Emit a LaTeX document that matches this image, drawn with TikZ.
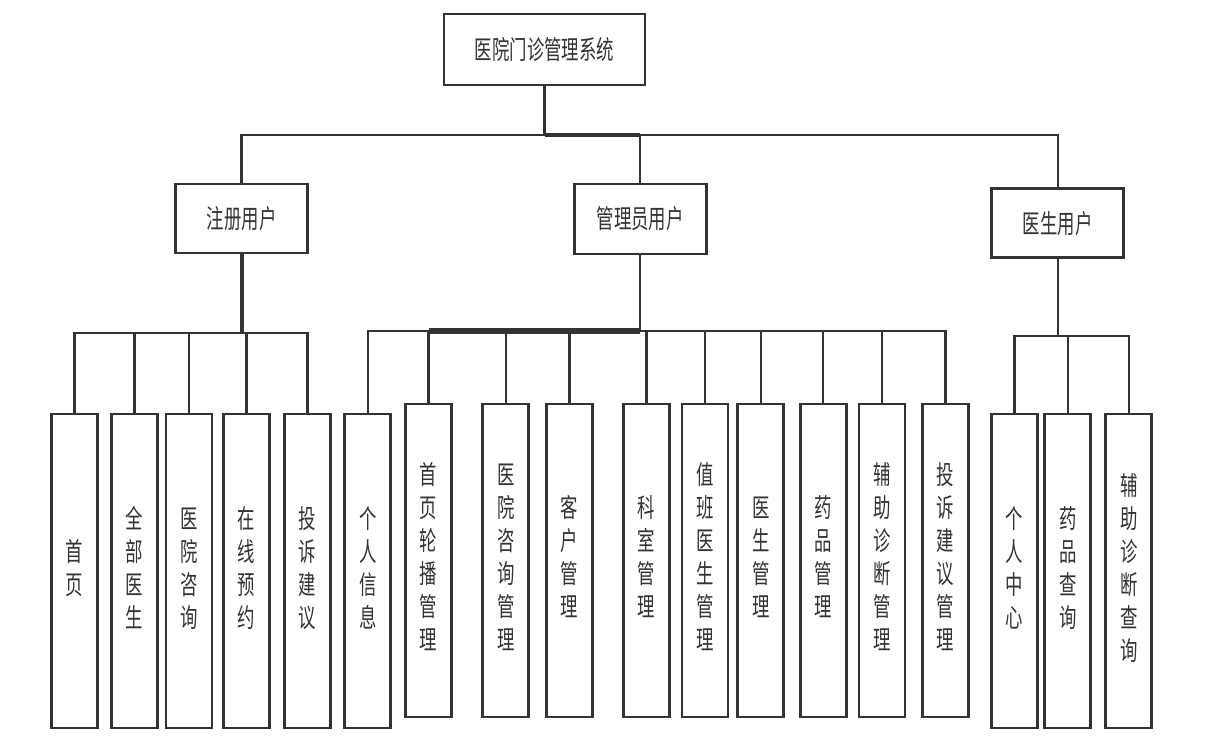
\documentclass[tikz,border=0pt]{standalone}
\usepackage{fontspec}
\usepackage{graphicx}
\newfontfamily\cjk{Noto Sans CJK SC}
\newcommand\vtxt[1]{\scalebox{1}[1.5]{\begin{tabular}{@{}c@{}}#1\end{tabular}}}
\newcommand\htxt[1]{\scalebox{1}[1.5]{#1}}
\definecolor{ln}{HTML}{333333}
\begin{document}
\begin{tikzpicture}[x=1pt,y=-1pt,
  box/.style={draw=ln, line width=2.8pt, inner sep=0pt, text=ln,
    font=\cjk\fontsize{17.4}{22}\selectfont},
  topbox/.style={box, minimum width=132pt, minimum height=69pt},
  leaf/.style={box, minimum width=46pt, minimum height=313pt},
  conn/.style={draw=ln, line width=2.4pt},
  heavy/.style={draw=ln, line width=4pt},
  heavier/.style={draw=ln, line width=6pt}]
\useasboundingbox (0,0) rectangle (1221,752);
% level 0 and 1
\node[box, minimum width=201pt, minimum height=71pt] (root) at (544.5,49.5) {\htxt{医院门诊管理系统}};
\node[topbox] (reg) at (241.6,218.5) {\htxt{注册用户}};
\node[topbox, minimum height=70pt] (adm) at (640.2,219) {\htxt{管理员用户}};
\node[topbox] (doc) at (1057.7,223.3) {\htxt{医生用户}};
% registered children
\node[leaf, minimum height=314pt] (r1) at (74.5,571) {\vtxt{首\\页}};
\node[leaf, minimum height=314pt] (r2) at (134.5,571) {\vtxt{全\\部\\医\\生}};
\node[leaf, minimum height=314pt] (r3) at (189,571) {\vtxt{医\\院\\咨\\询}};
\node[leaf, minimum height=314pt] (r4) at (246.5,571) {\vtxt{在\\线\\预\\约}};
\node[leaf, minimum height=314pt] (r5) at (307.6,571) {\vtxt{投\\诉\\建\\议}};
% admin children
\node[leaf, minimum height=314pt] (a1) at (367.7,571) {\vtxt{个\\人\\信\\息}};
\node[leaf] (a2) at (428.6,560.5) {\vtxt{首\\页\\轮\\播\\管\\理}};
\node[leaf] (a3) at (505.7,560.5) {\vtxt{医\\院\\咨\\询\\管\\理}};
\node[leaf] (a4) at (569.5,560.5) {\vtxt{客\\户\\管\\理}};
\node[leaf] (a5) at (646.6,560.5) {\vtxt{科\\室\\管\\理}};
\node[leaf] (a6) at (705,560.5) {\vtxt{值\\班\\医\\生\\管\\理}};
\node[leaf] (a7) at (760.7,560.5) {\vtxt{医\\生\\管\\理}};
\node[leaf] (a8) at (823.2,560.5) {\vtxt{药\\品\\管\\理}};
\node[leaf] (a9) at (882,560.5) {\vtxt{辅\\助\\诊\\断\\管\\理}};
\node[leaf] (a10) at (945.4,560.5) {\vtxt{投\\诉\\建\\议\\管\\理}};
% doctor children
\node[leaf, minimum height=314pt] (d1) at (1014.6,571) {\vtxt{个\\人\\中\\心}};
\node[leaf, minimum height=314pt] (d2) at (1067.7,571) {\vtxt{药\\品\\查\\询}};
\node[leaf, minimum height=314pt] (d3) at (1128.8,571) {\vtxt{辅\\助\\诊\\断\\查\\询}};
% junction coordinates
\coordinate (j0) at (544.5,135);
\coordinate (jr) at (240,333);
\coordinate (ja) at (640,331);
\coordinate (jd) at (1058.5,336);
% top level connectors
\draw[conn] (root.south) -- (j0);
\draw[conn] (reg.north) |- (j0);
\draw[conn] (doc.north) |- (j0);
\draw[conn] (adm.north) -- (adm.north |- j0);
\draw[heavy] (j0) -- (adm.north |- j0);
% registered
\draw[heavy] (reg.south) -- (reg.south |- jr);
\foreach \n in {r1,r2,r3,r4,r5} \draw[conn] (\n.north) |- (reg.south |- jr);
% admin
\draw[conn] (adm.south) -- (adm.south |- ja);
\foreach \n in {a1,a2,a3,a4,a5,a6,a7,a8,a9,a10} \draw[conn] (\n.north) |- (adm.south |- ja);
\draw[heavier] (a2.north |- ja) -- (adm.south |- ja);
% doctor
\draw[conn] (doc.south) -- (doc.south |- jd);
\foreach \n in {d1,d2,d3} \draw[conn] (\n.north) |- (doc.south |- jd);
\end{tikzpicture}
\end{document}
